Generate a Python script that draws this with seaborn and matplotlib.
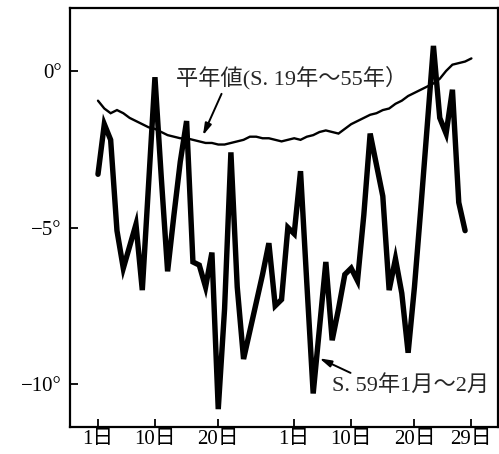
import matplotlib
matplotlib.use("Agg")
import matplotlib.pyplot as plt
import seaborn as sns
import numpy as np

# days counted from Jan 1 (Feb 1 = 32)
days_1984 = list(range(1, 60))
temp_1984 = [-3.3, -1.7, -2.2, -5.1, -6.3, -5.6, -4.9, -7.0, -3.6, -0.2,
             -3.4, -6.4, -4.6, -2.9, -1.6, -6.1, -6.2, -6.9, -5.8, -10.8,
             -7.6, -2.6, -6.9, -9.2, -8.3, -7.4, -6.5, -5.5, -7.5, -7.3,
             -5.0, -5.2, -3.2, -6.8, -10.3, -8.2, -6.1, -8.6, -7.6, -6.5,
             -6.3, -6.7, -4.6, -2.0, -3.0, -4.0, -7.0, -6.0, -7.1, -9.0,
             -6.9, -4.4, -1.8, 0.8, -1.5, -2.0, -0.6, -4.2, -5.1]

days_normal = list(range(1, 61))
temp_normal = [-0.95, -1.2, -1.35, -1.25, -1.35, -1.5, -1.6, -1.7, -1.8, -1.85,
               -1.95, -2.05, -2.1, -2.15, -2.15, -2.2, -2.25, -2.3, -2.3, -2.35,
               -2.35, -2.3, -2.25, -2.2, -2.1, -2.1, -2.15, -2.15, -2.2, -2.25,
               -2.2, -2.15, -2.2, -2.1, -2.05, -1.95, -1.9, -1.95, -2.0, -1.85,
               -1.7, -1.6, -1.5, -1.4, -1.35, -1.25, -1.2, -1.05, -0.95, -0.8,
               -0.7, -0.6, -0.5, -0.4, -0.25, 0.0, 0.2, 0.25, 0.3, 0.4]

x_ticks = [1, 10, 20, 32, 41, 51, 60]
x_labels = ['1日', '10日', '20日', '1日', '10日', '20日', '29日']
y_ticks = [0, -5, -10]
y_labels = ['0°', '−5°', '−10°']

sns.set_style("ticks")
plt.rcParams['font.family'] = ['Liberation Serif', 'Noto Sans CJK JP', 'DejaVu Sans']

fig = plt.figure(figsize=(4.99, 4.54), dpi=100)
ax = fig.add_axes([0.1403, 0.0595, 0.8577, 0.9229])

sns.lineplot(x=days_normal, y=temp_normal, ax=ax, color='black', lw=1.7)
sns.lineplot(x=days_1984, y=temp_1984, ax=ax, color='black', lw=3.9)
for ln in ax.get_lines():
    ln.set_solid_joinstyle('miter')

ax.set_xlim(-3.42, 64.2)
ax.set_ylim(-11.37, 2.01)
ax.set_xticks(x_ticks)
ax.set_xticklabels(x_labels)
ax.set_yticks(y_ticks)
ax.set_yticklabels(y_labels)
ax.tick_params(direction='in', length=6, width=1.3, labelsize=15, colors='black')
ax.tick_params(axis='x', pad=2)
ax.tick_params(axis='y', pad=6)
for s in ax.spines.values():
    s.set_visible(True)
    s.set_linewidth(1.6)
    s.set_color('black')

ax.text(31.6, -0.22, '平年値(S. 19年～55年）', ha='center', va='center', fontsize=16)
ax.annotate('', xy=(17.4, -2.14), xytext=(20.7, -0.65),
            arrowprops=dict(arrowstyle='-|>,head_length=0.7,head_width=0.2', lw=1.4, color='black'))
ax.text(50.4, -10.03, 'S. 59年1月～2月', ha='center', va='center', fontsize=16)
ax.annotate('', xy=(35.6, -9.14), xytext=(41.3, -9.68),
            arrowprops=dict(arrowstyle='-|>,head_length=0.7,head_width=0.2', lw=1.4, color='black'))

fig.savefig("out.png", dpi=100)
